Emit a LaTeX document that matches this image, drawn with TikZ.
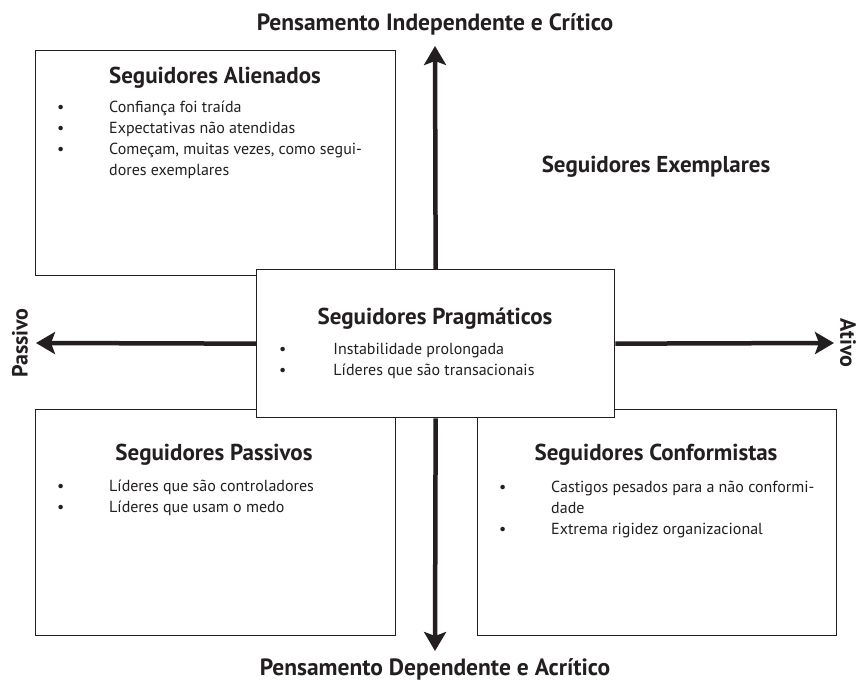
\documentclass[tikz,border=0pt]{standalone}
\usepackage{fontspec}
\setmainfont{PT Sans}
\usetikzlibrary{arrows.meta}
\definecolor{ink}{HTML}{231F20}
% bullet followed by a fixed indent
\newcommand{\bul}[1][52pt]{\makebox[#1][l]{•}}
\begin{document}
\begin{tikzpicture}[x=1pt,y=-1pt,
  quad/.style={draw=ink,line width=1.3pt,fill=white,inner sep=0pt,anchor=north west},
  ttl/.style={font=\bfseries\fontsize{23}{26}\selectfont,text=ink,anchor=base,inner sep=0pt},
  axlbl/.style={font=\bfseries\fontsize{23.5}{26}\selectfont,text=ink,inner sep=0pt},
  sidelbl/.style={font=\bfseries\fontsize{22}{26}\selectfont,text=ink,inner sep=0pt},
  items/.style={font=\fontsize{16}{20.7}\selectfont,text=ink,align=left,anchor=base west,inner sep=0pt},
  axis/.style={draw=ink,line width=4.5pt,-{Stealth[length=19pt,width=22pt,inset=4pt]}}
]
\useasboundingbox (0,0) rectangle (858,682);

% quadrant boxes
\node[quad,minimum width=360pt,minimum height=225pt] (tl) at (35,50) {};
\node[quad,minimum width=360pt,minimum height=226pt] (bl) at (35,409) {};
\node[quad,minimum width=359pt,minimum height=226pt] (br) at (477,409) {};

% central box on top
\node[quad,minimum width=358pt,minimum height=148pt] (pr) at (256,269) {};

% axes leaving the central box
\coordinate (up) at (435,46);
\coordinate (down) at (435,651);
\coordinate (left) at (36,343);
\coordinate (right) at (834,343);
\draw[axis] (pr.north) -- (up);
\draw[axis] (pr.south) -- (down);
\draw[axis] (pr.west) -- (left);
\draw[axis] (pr.east) -- (right);

% axis labels
\node[axlbl,anchor=base] (ind) at (435,31) {Pensamento Independente e Crítico};
\node[axlbl,anchor=base] (dep) at (435,675.5) {Pensamento Dependente e Acrítico};
\node[sidelbl,rotate=90] (pas) at (20,343) {Passivo};
\node[sidelbl,rotate=-90] (ati) at (848,343) {Ativo};

% titles
\node[ttl] (tlt) at (215,84) {Seguidores Alienados};
\node[ttl] (ext) at (656,172) {Seguidores Exemplares};
\node[ttl] (prt) at (435,324) {Seguidores Pragmáticos};
\node[ttl] (blt) at (214,460) {Seguidores Passivos};
\node[ttl] (brt) at (656,460) {Seguidores Conformistas};

% item lists (anchored at the baseline of their last line)
\node[items] (tli) at (57,175) {\bul Confiança foi traída\\
  \bul Expectativas não atendidas\\
  \bul Começam, muitas vezes, como segui-\\
  \hspace{52pt}dores exemplares};
\node[items] (pri) at (279,375.5) {\bul[50pt] Instabilidade prolongada\\
  \bul[50pt] Líderes que são transacionais};
\node[items] (bli) at (57,512.5) {\bul Líderes que são controladores\\
  \bul Líderes que usam o medo};
\node[items] (bri) at (499,534) {\bul Castigos pesados para a não conformi-\\
  \hspace{52pt}dade\\
  \bul Extrema rigidez organizacional};
\end{tikzpicture}
\end{document}
